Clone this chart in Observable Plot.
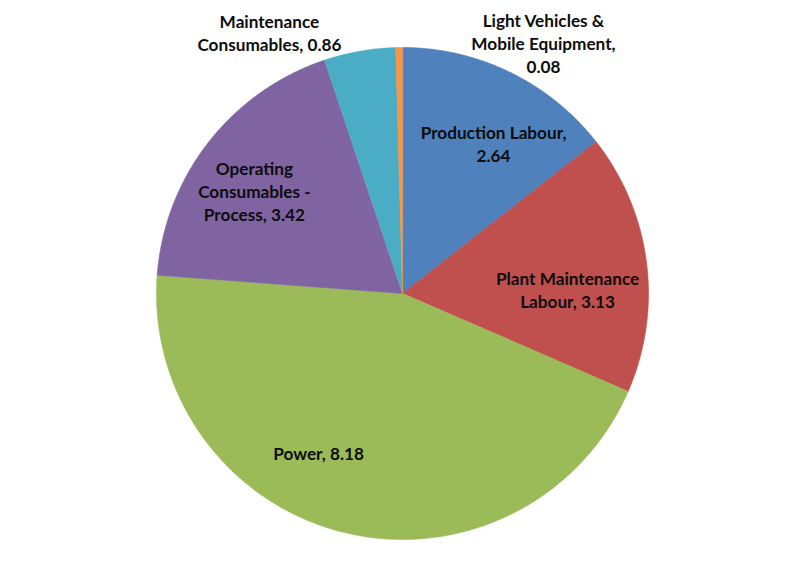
<!DOCTYPE html>
<html>
<head>
<meta charset="utf-8">
<script src="https://cdn.jsdelivr.net/npm/d3@7"></script>
<script src="https://cdn.jsdelivr.net/npm/@observablehq/plot@0.6"></script>
<style>
  html, body { margin: 0; padding: 0; background: #fff; }
  #chart { width: 792px; height: 577px; }
</style>
</head>
<body>
<div id="chart"></div>
<script>
// ---- data ----
const categories = [
  "Production Labour",
  "Plant Maintenance Labour",
  "Power",
  "Operating Consumables - Process",
  "Maintenance Consumables",
  "Light Vehicles & Mobile Equipment"
];
const values = [2.64, 3.13, 8.18, 3.42, 0.86, 0.08];
const labelTexts = [
  "Production Labour,\n2.64",
  "Plant Maintenance\nLabour, 3.13",
  "Power, 8.18",
  "Operating\nConsumables -\nProcess, 3.42",
  "Maintenance\nConsumables, 0.86",
  "Light Vehicles &\nMobile Equipment,\n0.08"
];
const colors = ["#4F81BD", "#C0504D", "#9BBB59", "#8064A2", "#4BACC6", "#F79646"];

// ---- layout (label anchors in pie-radius units relative to centre) ----
const labelOffsets = [
  [0.370, 0.612],
  [0.671, 0.018],
  [-0.341, -0.646],
  [-0.602, 0.419],
  [-0.541, 1.063],
  [0.573, 1.020]
];

const W = 792, H = 577, CX = 402, CY = 293, R = 246;

const pie = d3.pie().sort(null).value(d => d.value);
const arcs = pie(categories.map((name, i) => ({name, value: values[i]})));

const slicePts = [];
for (const a of arcs) {
  const name = a.data.name;
  slicePts.push({name, x: 0, y: 0});
  const n = Math.max(4, Math.ceil((a.endAngle - a.startAngle) / (Math.PI / 360)));
  for (let k = 0; k <= n; k++) {
    const t = a.startAngle + (a.endAngle - a.startAngle) * k / n;
    slicePts.push({name, x: Math.sin(t), y: Math.cos(t)});
  }
}

const labels = categories.map((name, i) => ({
  name, text: labelTexts[i], x: labelOffsets[i][0], y: labelOffsets[i][1]
}));

const chart = Plot.plot({
  width: W,
  height: H,
  margin: 0,
  style: {background: "#fff", fontFamily: "Lato, 'Open Sans', sans-serif"},
  x: {domain: [-CX / R, (W - CX) / R], range: [0, W], axis: null},
  y: {domain: [-(H - CY) / R, CY / R], range: [H, 0], axis: null},
  color: {domain: categories, range: colors},
  marks: [
    Plot.line(slicePts, {
      x: "x", y: "y", z: "name",
      fill: "name", stroke: "name", strokeWidth: 0.6,
      curve: "linear-closed"
    }),
    Plot.text(labels, {
      x: "x", y: "y", text: "text",
      fill: "#0d0d0d", fontSize: 17.2, fontWeight: "bold",
      lineHeight: 1.34, lineAnchor: "middle", textAnchor: "middle"
    })
  ]
});
document.getElementById("chart").appendChild(chart);
</script>
</body>
</html>
